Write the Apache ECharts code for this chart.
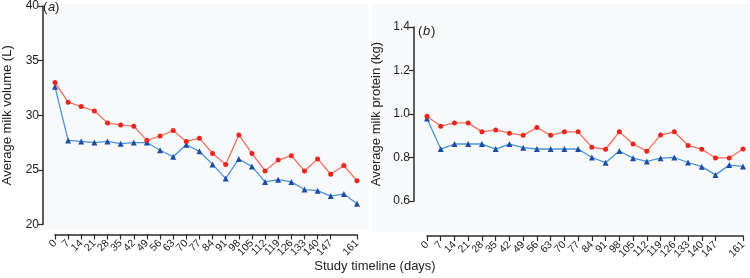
<!DOCTYPE html>
<html>
<head>
<meta charset="utf-8">
<script src="https://cdn.jsdelivr.net/npm/echarts@6/dist/echarts.min.js"></script>
<style>html,body{margin:0;padding:0;background:#fff}#c{width:750px;height:278px}</style>
</head>
<body>
<div id="c"></div>
<script>
var days = [0,7,14,21,28,35,42,49,56,63,70,77,84,91,98,105,112,119,126,133,140,147,154,161];
var volumeRed = [33.0,31.2,30.8,30.4,29.3,29.1,29.0,27.7,28.1,28.6,27.6,27.9,26.5,25.5,28.2,26.5,24.9,25.9,26.3,24.9,26.0,24.6,25.4,24.0];
var volumeBlue = [32.6,27.7,27.6,27.5,27.6,27.4,27.5,27.5,26.8,26.2,27.3,26.7,25.5,24.2,26.0,25.3,23.9,24.1,23.9,23.2,23.1,22.6,22.8,21.9];
var proteinRed = [0.99,0.944,0.959,0.959,0.918,0.927,0.912,0.902,0.938,0.902,0.918,0.918,0.847,0.838,0.918,0.862,0.829,0.903,0.918,0.855,0.838,0.798,0.798,0.839];
var proteinBlue = [0.979,0.839,0.862,0.862,0.862,0.839,0.862,0.845,0.839,0.839,0.839,0.839,0.800,0.776,0.830,0.797,0.782,0.797,0.800,0.777,0.758,0.720,0.765,0.759];

var volumeTicks = [20,25,30,35,40];
var proteinTicks = [0.6,0.8,1.0,1.2,1.4];

var chart = echarts.init(document.getElementById('c'), null, {renderer:'canvas'});
var FONT = 'Liberation Sans, Arial, sans-serif';
var axisCol = '#2a2a2a';
var redLine = '#f2705f', redPt = '#e8261f';
var blueLine = '#4b93d6', bluePt = '#1d4da3';

function pairs(ys){ return days.map(function(d,i){ return [d, ys[i]]; }); }

function xAx(grid, offset){
  return {
    type:'value', gridIndex:grid, position:'bottom', min:0, max:161, interval:7, offset:offset,
    axisLine:{show:true, onZero:false, lineStyle:{color:axisCol, width:1.5}},
    axisTick:{show:true, length:5, lineStyle:{color:axisCol, width:1.2}},
    splitLine:{show:false},
    axisLabel:{rotate:45, fontSize:10.5, color:'#222', fontFamily:FONT, margin:7, interval:0, showMinLabel:true, showMaxLabel:true, hideOverlap:false}
  };
}
function yAx(grid, min, max, interval, offset, name, dec){
  return {
    type:'value', gridIndex:grid, position:'left', min:min, max:max, interval:interval, offset:offset,
    name:name, nameLocation:'middle', nameGap:dec?31:29,
    nameTextStyle:{fontSize:13, color:'#222', fontFamily:FONT},
    axisLine:{show:true, onZero:false, lineStyle:{color:axisCol, width:1.5}},
    axisTick:{show:true, length:5, lineStyle:{color:axisCol, width:1.2}},
    splitLine:{show:false},
    axisLabel:{fontSize:12, color:'#222', fontFamily:FONT, margin:4,
      formatter:function(v){ return dec ? v.toFixed(1) : String(v); }}
  };
}
function ser(x, y, data, lc, pc, sym, size){
  return {
    type:'line', xAxisIndex:x, yAxisIndex:y, data:pairs(data),
    symbol:sym, symbolSize:size, showSymbol:true,
    lineStyle:{color:lc, width:1.3},
    itemStyle:{color:pc},
    animation:false
  };
}

chart.setOption({
  backgroundColor:'#ffffff',
  animation:false,
  grid:[
    {left:52, top:6, width:305, height:218.5},
    {left:427, top:27, width:316, height:174}
  ],
  xAxis:[ xAx(0, 10), xAx(1, 35) ],
  yAxis:[
    yAx(0, volumeTicks[0], volumeTicks[volumeTicks.length-1], 5, 12, 'Average milk volume (L)', false),
    yAx(1, proteinTicks[0], proteinTicks[proteinTicks.length-1], 0.2, 13, 'Average milk protein (kg)', true)
  ],
  graphic:[
    {type:'rect', silent:true, z:-10, shape:{x:41, y:4, width:327, height:226}, style:{fill:'#f8f9fa'}},
    {type:'rect', silent:true, z:-10, shape:{x:372, y:4, width:378, height:228}, style:{fill:'#f8f9fa'}},
    {type:'text', left:43, top:1, style:{text:'(', font:'13px '+FONT, fill:'#222'}},
    {type:'text', left:48, top:1, style:{text:'a', font:'italic 13px '+FONT, fill:'#222'}},
    {type:'text', left:55, top:1, style:{text:')', font:'13px '+FONT, fill:'#222'}},
    {type:'text', left:418, top:25, style:{text:'(', font:'13px '+FONT, fill:'#222'}},
    {type:'text', left:423, top:25, style:{text:'b', font:'italic 13px '+FONT, fill:'#222'}},
    {type:'text', left:431, top:25, style:{text:')', font:'13px '+FONT, fill:'#222'}},
    {type:'text', x:375, y:266, style:{text:'Study timeline (days)', font:'13px '+FONT, fill:'#222', textAlign:'center', textVerticalAlign:'middle'}}
  ],
  series:[
    ser(0,0,volumeBlue, blueLine, bluePt, 'triangle', 6),
    ser(0,0,volumeRed, redLine, redPt, 'circle', 5),
    ser(1,1,proteinBlue, blueLine, bluePt, 'triangle', 6),
    ser(1,1,proteinRed, redLine, redPt, 'circle', 5)
  ]
});
</script>
</body>
</html>
